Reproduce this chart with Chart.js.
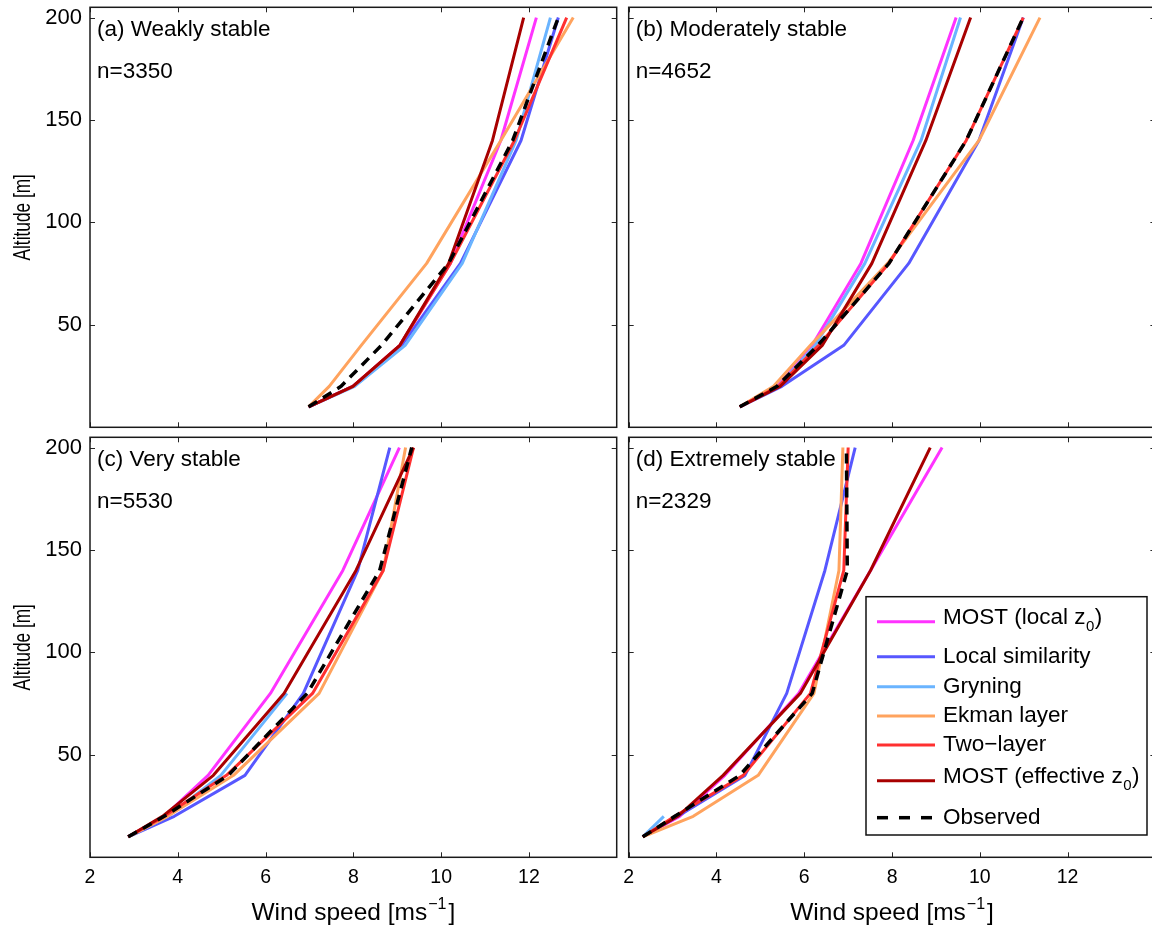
<!DOCTYPE html>
<html><head><meta charset="utf-8">
<script src="https://cdn.jsdelivr.net/npm/chart.js@4.4.1/dist/chart.umd.min.js"></script>
<style>
html,body{margin:0;padding:0;background:#fff;overflow:hidden;width:1152px;height:928px;position:relative;}
canvas{position:absolute;display:block;}
</style></head><body>
<canvas id="ca" width="620" height="432" style="left:0;top:0"></canvas>
<canvas id="cb" width="540" height="432" style="left:620px;top:0"></canvas>
<canvas id="cc" width="620" height="496" style="left:0;top:432px"></canvas>
<canvas id="cd" width="540" height="496" style="left:620px;top:432px"></canvas>
<script>
// ---------- data ----------
const altitudes = [10, 20, 40, 80, 140, 200];
const xTickValues = [2, 4, 6, 8, 10, 12];
const yTickValues = [50, 100, 150, 200];
const panelTitles = ['(a) Weakly stable', '(b) Moderately stable', '(c) Very stable', '(d) Extremely stable'];
const panelCounts = ['n=3350', 'n=4652', 'n=5530', 'n=2329'];
const seriesNames = ['MOST (local z0)', 'Local similarity', 'Gryning', 'Ekman layer', 'Two\u2212layer', 'MOST (effective z0)', 'Observed'];

// (a) Weakly stable
const aMostLocal = [6.98, 7.99, 9.06, 10.21, 11.36, 12.17];
const aLocalSim  = [6.98, 7.99, 9.10, 10.44, 11.82, 12.67];
const aGryning   = [6.98, 8.03, 9.18, 10.48, 11.71, 12.49];
const aEkman     = [6.98, 7.45, 8.18, 9.67, 11.36, 13.01];
const aTwoLayer  = [6.98, 7.99, 9.06, 10.21, 11.67, 12.86];
const aMostEff   = [6.98, 7.99, 9.06, 10.17, 11.17, 11.88];
const aObserved  = [6.98, 7.72, 8.64, 10.17, 11.63, 12.67];
// (b) Moderately stable
const bMostLocal = [4.53, 5.38, 6.18, 7.29, 8.48, 9.46];
const bLocalSim  = [4.53, 5.49, 6.90, 8.38, 9.98, 10.99];
const bGryning   = [4.53, 5.41, 6.25, 7.38, 8.66, 9.56];
const bEkman     = [4.53, 5.30, 6.14, 7.90, 9.98, 11.37];
const bTwoLayer  = [4.53, 5.41, 6.33, 7.93, 9.69, 10.99];
const bMostEff   = [4.53, 5.45, 6.41, 7.54, 8.77, 9.79];
const bObserved  = [4.53, 5.38, 6.31, 7.93, 9.69, 10.99];
// (c) Very stable
const cMostLocal = [2.87, 3.69, 4.69, 6.11, 7.76, 9.05];
const cLocalSim  = [2.87, 3.92, 5.53, 6.86, 8.10, 8.83];
const cGryning   = [2.87, 3.77, 4.98, 6.49, null, null];
const cEkman     = [2.87, 3.77, 5.27, 7.22, 8.68, 9.19];
const cTwoLayer  = [2.87, 3.69, 5.11, 7.07, 8.68, 9.37];
const cMostEff   = [2.87, 3.65, 4.81, 6.42, 8.06, 9.37];
const cObserved  = [2.87, 3.69, 5.15, 6.95, 8.60, 9.33];
// (d) Extremely stable
const dMostLocal = [2.32, 3.16, 4.19, 5.87, 7.51, 9.14];
const dLocalSim  = [2.32, 3.12, 4.65, 5.60, 6.47, 7.16];
const dGryning   = [2.32, 2.80, null, null, null, null];
const dEkman     = [2.32, 3.47, 4.95, 6.22, 6.79, 6.88];
const dTwoLayer  = [2.32, 3.05, 4.61, 6.14, 6.90, 7.00];
const dMostEff   = [2.32, 3.12, 4.15, 5.91, 7.51, 8.87];
const dObserved  = [2.32, 3.05, 4.53, 6.18, 6.98, 6.96];

// ---------- styles ----------
const FONT = '"Liberation Sans", Arial, Helvetica, sans-serif';
Chart.defaults.font.family = FONT;
const seriesStyles = [
  {color: '#ff33ff', dash: [], width: 3, order: 6},
  {color: '#5757ff', dash: [], width: 3, order: 5},
  {color: '#6ab4ff', dash: [], width: 3, order: 4},
  {color: '#ffa35e', dash: [], width: 3, order: 3},
  {color: '#ff3030', dash: [], width: 3, order: 2},
  {color: '#a80000', dash: [], width: 3, order: 1},
  {color: '#000000', dash: [10, 7], width: 3.5, order: 0}
];
const legendParts = [
  ['MOST (local z', '0', ')'],
  ['Local similarity', '', ''],
  ['Gryning', '', ''],
  ['Ekman layer', '', ''],
  ['Two\u2212layer', '', ''],
  ['MOST (effective z', '0', ')'],
  ['Observed', '', '']
];

const panels = [
  {id: 'ca', series: [aMostLocal, aLocalSim, aGryning, aEkman, aTwoLayer, aMostEff, aObserved],
   yW: 90, padR: 3.3, padT: 7.3, xH: 4.7, showX: false, showY: true, legend: false},
  {id: 'cb', series: [bMostLocal, bLocalSim, bGryning, bEkman, bTwoLayer, bMostEff, bObserved],
   yW: 8.7, padR: 4.6, padT: 7.3, xH: 4.7, showX: false, showY: false, legend: false},
  {id: 'cc', series: [cMostLocal, cLocalSim, cGryning, cEkman, cTwoLayer, cMostEff, cObserved],
   yW: 90, padR: 3.3, padT: 5.3, xH: 70.7, showX: true, showY: true, legend: false},
  {id: 'cd', series: [dMostLocal, dLocalSim, dGryning, dEkman, dTwoLayer, dMostEff, dObserved],
   yW: 8.7, padR: 4.6, padT: 5.3, xH: 70.7, showX: true, showY: false, legend: true}
];

function toPoints(vals) {
  const pts = [];
  vals.forEach((v, i) => { if (v !== null) pts.push({x: v, y: altitudes[i]}); });
  return pts;
}

function zeroPad(s) { s.paddingTop = 0; s.paddingBottom = 0; s.paddingLeft = 0; s.paddingRight = 0; }

function framePlugin(idx, cfg) {
  return {
    id: 'frame' + idx,
    afterDraw(chart) {
      const {ctx, chartArea: ca, scales} = chart;
      const x = scales.x, y = scales.y;
      ctx.save();
      // inward tick marks
      ctx.strokeStyle = '#262626';
      ctx.lineWidth = 1;
      ctx.beginPath();
      xTickValues.forEach(v => {
        const px = Math.round(x.getPixelForValue(v)) + 0.5;
        ctx.moveTo(px, ca.bottom); ctx.lineTo(px, ca.bottom - 5);
        ctx.moveTo(px, ca.top); ctx.lineTo(px, ca.top + 5);
      });
      yTickValues.forEach(v => {
        const py = Math.round(y.getPixelForValue(v)) + 0.5;
        ctx.moveTo(ca.left, py); ctx.lineTo(ca.left + 5, py);
        ctx.moveTo(ca.right, py); ctx.lineTo(ca.right - 5, py);
      });
      ctx.stroke();
      // frame
      ctx.strokeStyle = '#1a1a1a';
      ctx.lineWidth = 1.5;
      ctx.strokeRect(ca.left, ca.top, ca.right - ca.left, ca.bottom - ca.top);
      // panel labels
      ctx.fillStyle = '#000';
      ctx.font = '22.5px ' + FONT;
      ctx.textBaseline = 'middle';
      ctx.textAlign = 'left';
      ctx.fillText(panelTitles[idx], ca.left + 7, ca.top + 22.7);
      ctx.fillText(panelCounts[idx], ca.left + 7, ca.top + 64.4);
      // y axis title (left panels)
      if (cfg.showY) {
        ctx.save();
        ctx.translate(23, (ca.top + ca.bottom) / 2);
        ctx.rotate(-Math.PI / 2);
        ctx.scale(0.72, 1);
        ctx.font = '24px ' + FONT;
        ctx.textAlign = 'center';
        ctx.textBaseline = 'middle';
        ctx.fillText('Altitude [m]', 0, 0);
        ctx.restore();
      }
      // x axis title
      if (cfg.showX) {
        const cx = (ca.left + ca.right) / 2;
        const main = 'Wind speed [ms', sup = '\u22121', tail = ']';
        ctx.font = '24.5px ' + FONT;
        const w1 = ctx.measureText(main).width, w3 = ctx.measureText(tail).width;
        ctx.font = '16px ' + FONT;
        const w2 = ctx.measureText(sup).width;
        let sx = cx - (w1 + w2 + w3 + 3) / 2;
        const base = ca.bottom + 63;
        ctx.textBaseline = 'alphabetic';
        ctx.font = '24.5px ' + FONT;
        ctx.fillText(main, sx, base);
        ctx.font = '16px ' + FONT;
        ctx.fillText(sup, sx + w1 + 1, base - 11);
        ctx.font = '24.5px ' + FONT;
        ctx.fillText(tail, sx + w1 + w2 + 3, base);
      }
      // legend
      if (cfg.legend) {
        const L = ca.left + 237.3, T = ca.top + 159.4, W = 281, H = 238.3;
        ctx.fillStyle = '#fff';
        ctx.fillRect(L, T, W, H);
        ctx.strokeStyle = '#111';
        ctx.lineWidth = 1.5;
        ctx.strokeRect(L, T, W, H);
        const rowY = [184.4, 219.4, 249.4, 278.7, 307.7, 343.4, 380.4];
        seriesStyles.forEach((st, i) => {
          const ly = ca.top + rowY[i];
          ctx.strokeStyle = st.color;
          ctx.lineWidth = st.width;
          ctx.setLineDash(i === 6 ? [11, 11] : []);
          ctx.beginPath();
          ctx.moveTo(L + 11, ly); ctx.lineTo(L + 69, ly);
          ctx.stroke();
          ctx.setLineDash([]);
          const [m, s, t] = legendParts[i];
          const ty = s ? ly - 4 : ly;
          ctx.fillStyle = '#000';
          ctx.textBaseline = 'middle';
          ctx.font = '22.5px ' + FONT;
          let tx = L + 77;
          ctx.fillText(m, tx, ty);
          if (s) {
            tx += ctx.measureText(m).width;
            ctx.font = '15px ' + FONT;
            ctx.fillText(s, tx + 0.5, ty + 9);
            tx += ctx.measureText(s).width + 1;
            ctx.font = '22.5px ' + FONT;
            ctx.fillText(t, tx, ty);
          }
        });
      }
      ctx.restore();
    }
  };
}

panels.forEach((p, idx) => {
  const datasets = p.series.map((vals, i) => ({
    label: seriesNames[i],
    data: toPoints(vals),
    borderColor: seriesStyles[i].color,
    backgroundColor: seriesStyles[i].color,
    borderWidth: seriesStyles[i].width,
    borderDash: seriesStyles[i].dash,
    order: seriesStyles[i].order,
    showLine: true,
    pointRadius: 0,
    tension: 0,
    fill: false
  }));
  new Chart(document.getElementById(p.id), {
    type: 'scatter',
    data: {datasets},
    options: {
      responsive: false,
      animation: false,
      devicePixelRatio: 1,
      layout: {padding: {left: 0, right: p.padR, top: p.padT, bottom: 0}},
      plugins: {legend: {display: false}, tooltip: {enabled: false}},
      elements: {line: {borderCapStyle: 'butt', borderJoinStyle: 'round'}},
      scales: {
        x: {
          type: 'linear', position: 'bottom', min: 2, max: 14,
          grid: {display: false, drawTicks: false}, border: {display: false},
          afterBuildTicks: s => { s.ticks = xTickValues.map(v => ({value: v})); },
          afterFit: s => { s.height = p.xH; zeroPad(s); },
          ticks: {display: p.showX, color: '#000', font: {size: 19.5}, padding: 9, maxRotation: 0, autoSkip: false}
        },
        y: {
          type: 'linear', position: 'left', min: 0, max: 205,
          grid: {display: false, drawTicks: false}, border: {display: false},
          afterBuildTicks: s => { s.ticks = yTickValues.map(v => ({value: v})); },
          afterFit: s => { s.width = p.yW; zeroPad(s); },
          ticks: {display: p.showY, color: '#000', font: {size: 22}, padding: 8, autoSkip: false},
          title: {display: false}
        }
      }
    },
    plugins: [framePlugin(idx, p)]
  });
});
</script>
</body></html>
